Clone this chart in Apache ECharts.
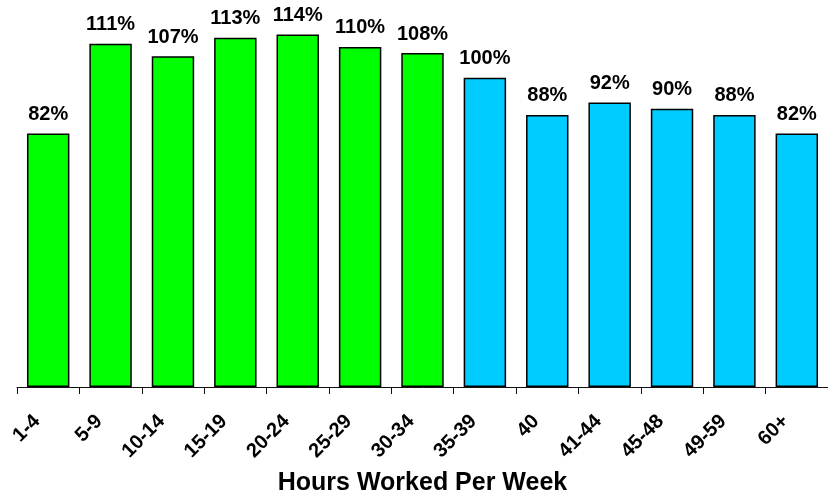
<!DOCTYPE html>
<html>
<head>
<meta charset="utf-8">
<script src="https://cdn.jsdelivr.net/npm/echarts@6/dist/echarts.min.js"></script>
<style>
  html, body { margin: 0; padding: 0; background: #fff; overflow: hidden; }
  #chart { width: 828px; height: 501px; }
</style>
</head>
<body>
<div id="chart"></div>
<script>
// Weekly hour bands and their relative index (%)
const categories = ['1-4', '5-9', '10-14', '15-19', '20-24', '25-29', '30-34', '35-39', '40', '41-44', '45-48', '49-59', '60+'];
const values = [82, 111, 107, 113, 114, 110, 108, 100, 88, 92, 90, 88, 82];
// Part-time bands (under 35 hours) are green, full-time bands are blue
const partTimeCount = 7;
const partTimeColor = '#00FF00';
const fullTimeColor = '#00CCFF';

const chart = echarts.init(document.getElementById('chart'), null, { renderer: 'canvas' });

const barData = values.map((v, i) => ({
  value: v,
  itemStyle: { color: i < partTimeCount ? partTimeColor : fullTimeColor }
}));

chart.setOption({
  animation: false,
  grid: { left: 17, right: -7, top: 16, bottom: 110, containLabel: false },
  xAxis: {
    type: 'category',
    data: categories,
    name: 'Hours Worked Per Week',
    nameLocation: 'middle',
    nameGap: 84,
    nameTextStyle: { fontFamily: 'Liberation Sans', fontWeight: 'bold', fontSize: 25, color: '#000' },
    axisLine: { lineStyle: { color: '#111', width: 1 } },
    axisTick: { show: true, length: 7, alignWithLabel: false, lineStyle: { color: '#111' } },
    axisLabel: {
      rotate: 45,
      margin: 20,
      padding: [0, 16, 0, 0],
      interval: 0,
      fontFamily: 'Liberation Sans',
      fontWeight: 'bold',
      fontSize: 20,
      color: '#000'
    }
  },
  yAxis: {
    type: 'value',
    min: 0,
    max: 120,
    show: false
  },
  series: [{
    type: 'bar',
    data: barData,
    barCategoryGap: '32%',
    itemStyle: { borderColor: '#000', borderWidth: 1.5 },
    label: {
      show: true,
      position: 'top',
      distance: 9,
      formatter: '{c}%',
      fontFamily: 'Liberation Sans',
      fontWeight: 'bold',
      fontSize: 20,
      color: '#000'
    }
  }]
});
</script>
</body>
</html>
